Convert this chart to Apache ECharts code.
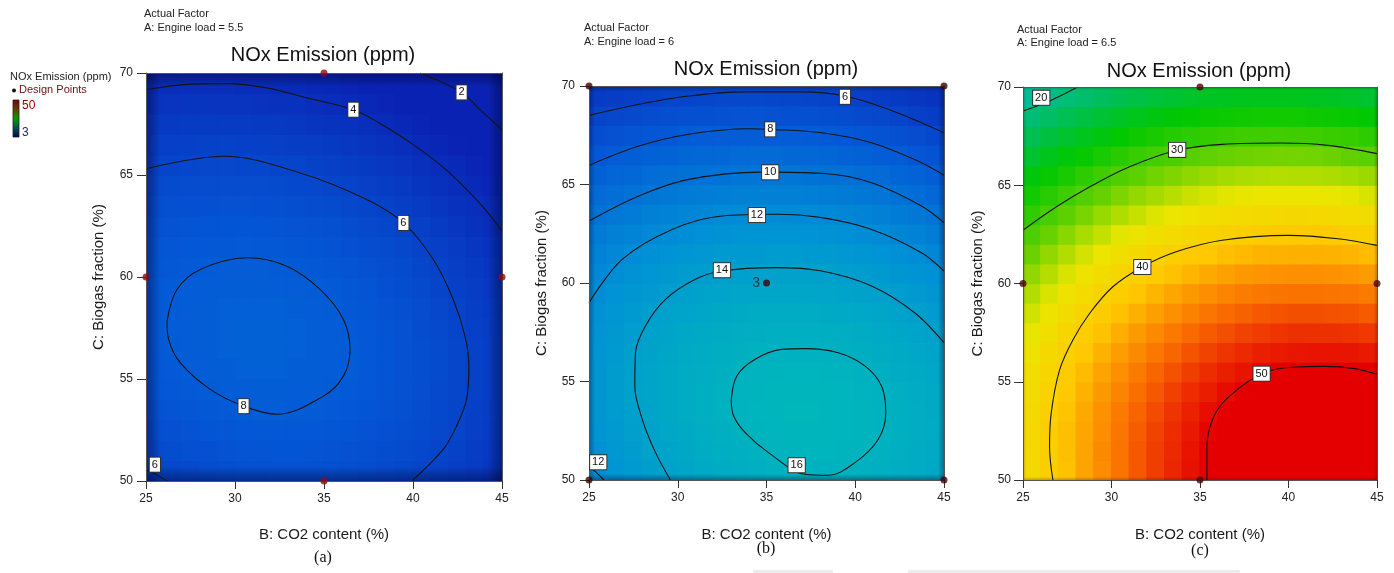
<!DOCTYPE html>
<html><head><meta charset="utf-8">
<script src="https://cdn.jsdelivr.net/npm/echarts@6/dist/echarts.min.js"></script>
<style>html,body{margin:0;padding:0;background:#fff}#chart{width:1394px;height:573px}</style>
</head><body><div id="chart"></div>
<script>
// ---------- cell centres of the response grids ----------
const cellB = [25.5,26.5,27.5,28.5,29.5,30.5,31.5,32.5,33.5,34.5,35.5,36.5,37.5,38.5,39.5,40.5,41.5,42.5,43.5,44.5];
const cellC = [50.5,51.5,52.5,53.5,54.5,55.5,56.5,57.5,58.5,59.5,60.5,61.5,62.5,63.5,64.5,65.5,66.5,67.5,68.5,69.5];

// ---------- NOx (ppm), rows = C from 50.5 up to 69.5 ----------
const noxLoad55 = [
[6.1,6.3,6.5,6.7,6.9,7.0,7.0,7.1,7.1,7.0,7.0,6.9,6.7,6.5,6.3,6.1,5.8,5.5,5.2,4.8],
[6.5,6.8,7.0,7.1,7.3,7.4,7.4,7.5,7.5,7.4,7.3,7.2,7.0,6.8,6.6,6.4,6.1,5.8,5.4,5.0],
[6.9,7.1,7.3,7.5,7.6,7.7,7.8,7.8,7.8,7.7,7.6,7.5,7.3,7.1,6.9,6.6,6.3,6.0,5.6,5.2],
[7.2,7.4,7.6,7.8,7.9,8.0,8.1,8.1,8.0,8.0,7.9,7.7,7.5,7.3,7.0,6.8,6.4,6.1,5.7,5.3],
[7.5,7.7,7.9,8.0,8.1,8.2,8.3,8.3,8.2,8.1,8.0,7.9,7.7,7.4,7.2,6.9,6.5,6.2,5.8,5.4],
[7.7,7.9,8.1,8.2,8.3,8.4,8.4,8.4,8.3,8.3,8.1,8.0,7.7,7.5,7.2,6.9,6.6,6.2,5.8,5.4],
[7.8,8.0,8.2,8.3,8.4,8.5,8.5,8.5,8.4,8.3,8.2,8.0,7.8,7.5,7.2,6.9,6.6,6.2,5.8,5.4],
[7.8,8.1,8.2,8.3,8.4,8.5,8.5,8.5,8.4,8.3,8.1,7.9,7.7,7.4,7.2,6.8,6.5,6.1,5.7,5.3],
[7.8,8.0,8.2,8.3,8.4,8.4,8.4,8.4,8.3,8.2,8.0,7.8,7.6,7.3,7.0,6.7,6.3,5.9,5.5,5.1],
[7.8,8.0,8.1,8.2,8.3,8.3,8.3,8.2,8.2,8.0,7.9,7.6,7.4,7.1,6.8,6.5,6.1,5.7,5.3,4.9],
[7.6,7.8,7.9,8.0,8.1,8.1,8.1,8.0,7.9,7.8,7.6,7.4,7.2,6.9,6.6,6.2,5.9,5.5,5.1,4.7],
[7.4,7.6,7.7,7.8,7.8,7.9,7.8,7.8,7.6,7.5,7.3,7.1,6.8,6.6,6.3,5.9,5.6,5.2,4.8,4.4],
[7.2,7.3,7.4,7.5,7.5,7.5,7.5,7.4,7.3,7.2,7.0,6.7,6.5,6.2,5.9,5.6,5.2,4.8,4.4,4.0],
[6.8,7.0,7.1,7.1,7.2,7.2,7.1,7.0,6.9,6.7,6.6,6.3,6.1,5.8,5.5,5.2,4.8,4.4,4.1,3.7],
[6.5,6.6,6.7,6.7,6.7,6.7,6.7,6.6,6.4,6.3,6.1,5.9,5.6,5.3,5.0,4.7,4.4,4.0,3.6,3.3],
[6.0,6.1,6.2,6.3,6.3,6.2,6.2,6.1,6.0,5.8,5.6,5.4,5.1,4.9,4.6,4.2,3.9,3.6,3.2,2.8],
[5.6,5.7,5.7,5.8,5.8,5.7,5.7,5.6,5.4,5.3,5.1,4.9,4.6,4.3,4.1,3.7,3.4,3.1,2.8,2.4],
[5.1,5.1,5.2,5.2,5.2,5.2,5.1,5.0,4.9,4.7,4.5,4.3,4.1,3.8,3.5,3.2,2.9,2.6,2.3,2.0],
[4.5,4.6,4.7,4.7,4.6,4.6,4.5,4.4,4.3,4.1,3.9,3.7,3.5,3.3,3.0,2.7,2.5,2.2,1.9,1.6],
[4.0,4.0,4.1,4.1,4.1,4.0,3.9,3.8,3.7,3.5,3.4,3.2,3.0,2.7,2.5,2.2,2.0,1.7,1.5,1.2]
];
const noxLoad60 = [
[12.2,12.8,13.3,13.8,14.2,14.6,15.0,15.3,15.5,15.7,15.9,16.0,16.0,16.0,16.0,15.9,15.7,15.5,15.2,14.9],
[12.5,13.1,13.6,14.1,14.5,14.9,15.3,15.6,15.8,16.0,16.1,16.2,16.3,16.3,16.2,16.1,15.9,15.7,15.4,15.1],
[12.8,13.4,13.9,14.3,14.8,15.1,15.5,15.8,16.0,16.2,16.3,16.4,16.4,16.4,16.3,16.2,16.0,15.8,15.5,15.2],
[13.0,13.5,14.0,14.5,14.9,15.3,15.6,15.9,16.1,16.3,16.4,16.5,16.5,16.4,16.3,16.2,16.0,15.8,15.5,15.1],
[13.0,13.6,14.1,14.5,14.9,15.3,15.6,15.9,16.1,16.2,16.4,16.4,16.4,16.4,16.3,16.1,15.9,15.7,15.3,15.0],
[13.0,13.6,14.0,14.5,14.9,15.2,15.5,15.8,16.0,16.1,16.2,16.3,16.3,16.2,16.1,15.9,15.7,15.4,15.1,14.8],
[12.9,13.4,13.9,14.3,14.7,15.1,15.3,15.6,15.8,15.9,16.0,16.0,16.0,15.9,15.8,15.6,15.4,15.1,14.8,14.5],
[12.7,13.2,13.7,14.1,14.5,14.8,15.1,15.3,15.5,15.6,15.7,15.7,15.7,15.6,15.5,15.3,15.0,14.7,14.4,14.0],
[12.5,12.9,13.4,13.8,14.1,14.4,14.7,14.9,15.1,15.2,15.3,15.3,15.2,15.1,15.0,14.8,14.6,14.3,13.9,13.5],
[12.1,12.6,13.0,13.4,13.7,14.0,14.2,14.4,14.6,14.7,14.7,14.7,14.7,14.6,14.4,14.2,14.0,13.7,13.4,13.0],
[11.7,12.1,12.5,12.9,13.2,13.5,13.7,13.9,14.0,14.1,14.1,14.1,14.1,14.0,13.8,13.6,13.3,13.0,12.7,12.3],
[11.2,11.6,12.0,12.3,12.6,12.9,13.1,13.3,13.4,13.4,13.5,13.5,13.4,13.3,13.1,12.9,12.6,12.3,12.0,11.6],
[10.6,11.0,11.3,11.7,11.9,12.2,12.4,12.5,12.7,12.7,12.7,12.7,12.6,12.5,12.3,12.1,11.8,11.5,11.2,10.8],
[9.9,10.3,10.6,11.0,11.2,11.4,11.6,11.8,11.9,11.9,11.9,11.9,11.8,11.7,11.5,11.3,11.0,10.7,10.4,10.0],
[9.2,9.6,9.9,10.2,10.4,10.6,10.8,10.9,11.0,11.1,11.0,11.0,10.9,10.8,10.6,10.4,10.1,9.8,9.5,9.1],
[8.5,8.8,9.1,9.4,9.6,9.8,9.9,10.0,10.1,10.1,10.1,10.1,10.0,9.8,9.7,9.4,9.2,8.9,8.6,8.2],
[7.7,8.0,8.3,8.5,8.7,8.9,9.0,9.1,9.2,9.2,9.2,9.1,9.0,8.9,8.7,8.5,8.2,8.0,7.6,7.3],
[6.9,7.2,7.4,7.6,7.8,8.0,8.1,8.2,8.2,8.2,8.2,8.1,8.0,7.9,7.7,7.5,7.3,7.0,6.7,6.4],
[6.0,6.3,6.5,6.7,6.9,7.0,7.1,7.2,7.3,7.3,7.2,7.1,7.0,6.9,6.7,6.5,6.3,6.0,5.7,5.4],
[5.2,5.4,5.6,5.8,6.0,6.1,6.2,6.3,6.3,6.3,6.2,6.2,6.1,5.9,5.8,5.6,5.3,5.1,4.8,4.5]
];
const noxLoad65 = [
[38.0,39.6,41.0,42.5,43.8,45.1,46.3,47.4,48.4,49.3,50.1,50.9,51.5,52.0,52.5,52.8,53.0,53.1,53.1,53.0],
[38.1,39.7,41.1,42.5,43.9,45.1,46.3,47.4,48.3,49.2,50.1,50.8,51.4,51.9,52.3,52.6,52.8,52.9,52.9,52.8],
[38.1,39.6,41.1,42.4,43.7,45.0,46.1,47.2,48.1,49.0,49.8,50.5,51.1,51.6,51.9,52.2,52.4,52.5,52.4,52.3],
[37.9,39.4,40.8,42.2,43.5,44.7,45.8,46.8,47.8,48.6,49.4,50.1,50.6,51.1,51.4,51.7,51.9,51.9,51.8,51.7],
[37.6,39.1,40.5,41.8,43.1,44.2,45.3,46.3,47.3,48.1,48.8,49.5,50.0,50.4,50.8,51.0,51.1,51.2,51.1,50.9],
[37.2,38.6,40.0,41.3,42.5,43.6,44.7,45.7,46.6,47.4,48.1,48.7,49.2,49.6,49.9,50.1,50.3,50.3,50.2,50.0],
[36.6,38.0,39.3,40.6,41.8,42.9,43.9,44.9,45.7,46.5,47.2,47.8,48.3,48.7,48.9,49.1,49.2,49.2,49.1,48.9],
[35.8,37.2,38.5,39.8,40.9,42.0,43.0,43.9,44.8,45.5,46.2,46.7,47.2,47.5,47.8,48.0,48.0,48.0,47.9,47.6],
[35.0,36.3,37.6,38.8,39.9,41.0,41.9,42.8,43.6,44.4,45.0,45.5,45.9,46.3,46.5,46.7,46.7,46.6,46.5,46.2],
[34.0,35.3,36.5,37.7,38.8,39.8,40.7,41.6,42.4,43.1,43.7,44.2,44.6,44.9,45.1,45.2,45.2,45.1,45.0,44.7],
[32.9,34.1,35.3,36.5,37.5,38.5,39.4,40.2,41.0,41.6,42.2,42.7,43.1,43.3,43.5,43.6,43.6,43.5,43.3,43.0],
[31.6,32.9,34.0,35.1,36.1,37.1,38.0,38.8,39.5,40.1,40.6,41.1,41.4,41.7,41.8,41.9,41.9,41.8,41.6,41.3],
[30.3,31.5,32.6,33.7,34.6,35.6,36.4,37.1,37.8,38.4,38.9,39.3,39.7,39.9,40.0,40.1,40.1,39.9,39.7,39.4],
[28.9,30.0,31.1,32.1,33.1,33.9,34.7,35.4,36.1,36.6,37.1,37.5,37.8,38.0,38.1,38.2,38.1,38.0,37.7,37.4],
[27.4,28.5,29.5,30.5,31.4,32.2,33.0,33.6,34.2,34.8,35.2,35.6,35.8,36.0,36.1,36.1,36.1,35.9,35.7,35.3],
[25.8,26.8,27.8,28.7,29.6,30.4,31.1,31.8,32.3,32.8,33.2,33.6,33.8,34.0,34.1,34.0,34.0,33.8,33.5,33.2],
[24.1,25.1,26.1,26.9,27.7,28.5,29.2,29.8,30.3,30.8,31.2,31.5,31.7,31.8,31.9,31.9,31.8,31.6,31.3,31.0],
[22.4,23.4,24.2,25.1,25.8,26.6,27.2,27.8,28.3,28.7,29.0,29.3,29.5,29.6,29.7,29.6,29.5,29.3,29.1,28.7],
[20.6,21.5,22.4,23.2,23.9,24.6,25.2,25.7,26.2,26.6,26.9,27.1,27.3,27.4,27.4,27.4,27.2,27.0,26.8,26.4],
[18.9,19.7,20.5,21.2,21.9,22.5,23.1,23.6,24.0,24.4,24.7,24.9,25.1,25.1,25.1,25.1,24.9,24.7,24.5,24.1]
];

// ---------- design points [B, C] ----------
const designA = [[35,70],[25,60],[45,60],[35,50]];
const designB = [[25,70],[45,70],[35,60],[25,50],[45,50]];
const designBReps = [1,1,3,1,1];
const designC = [[35,70],[25,60],[45,60],[35,50]];

// ---------- contour lines [B, C] ----------
const a2 = [[40.39,70],[42.73,69.05],[43.76,68.2],[45,67.22]];
const a4 = [[25,69.18],[27.1,69.43],[29.55,69.48],[31.79,69.27],[34.03,68.78],[36.65,68.2],[38.1,67.55],[40,66.5],[41.85,65.26],[43.73,63.63],[45,62.25]];
const a6 = [[25,65.31],[29.36,65.92],[33.66,65.1],[37.4,63.8],[39.46,62.65],[41.14,60.86],[42.26,58.9],[42.92,57.1],[43.14,55.63],[43.01,54.0],[42.45,52.7],[41.7,51.55],[39.94,50]];
const a6corner = [[25,50.55],[25.6,50.3],[26.2,50]];
const a8 = [[26.18,57.84],[26.74,59.39],[28.05,60.37],[30.67,60.94],[32.91,60.53],[34.78,59.39],[36.09,57.92],[36.46,56.45],[36.09,55.14],[34.97,54.16],[32.35,53.27],[30.48,53.67],[28.61,54.49],[26.92,55.8],[26.27,56.94],[26.18,57.84]];
const b6 = [[25,68.51],[27.81,69.07],[30.62,69.49],[33.8,69.7],[36.99,69.7],[39.42,69.49],[41.85,68.82],[43.73,68.14],[45,67.63]];
const b8 = [[25,65.97],[27.81,66.95],[30.62,67.55],[33.99,67.83],[35.21,67.8],[38.11,67.63],[40.92,67.12],[43.73,66.11],[45,65.47]];
const b10 = [[25,63.15],[27.81,64.42],[30.62,65.26],[34.74,65.63],[38.11,65.57],[40.92,65.09],[43.73,63.91],[45,63.06]];
const b12 = [[25,59.0],[26.87,61.2],[29.68,62.72],[32.49,63.4],[35.49,63.49],[38.11,63.32],[40.92,62.72],[43.73,61.54],[45,60.61]];
const b12corner = [[25,50.71],[25.45,50.35],[25.84,50]];
const b14 = [[29.59,50],[28.75,51.39],[28.0,53.08],[27.58,54.77],[27.62,56.46],[28.18,57.82],[29.31,59.17],[30.99,60.19],[32.49,60.61],[35.49,60.78],[38.11,60.61],[40.92,59.85],[43.35,58.49],[45,56.97]];
const b16 = [[33.01,54.01],[33.33,55.28],[34.36,56.13],[35.86,56.63],[37.17,56.67],[39.04,56.46],[40.54,55.79],[41.48,54.77],[41.72,53.42],[41.29,52.06],[39.98,50.88],[38.48,50.24],[37.17,50.29],[35.11,51.39],[33.8,52.4],[33.15,53.25],[33.01,54.01]];
const c20 = [[25,68.78],[26.5,69.29],[28.09,70]];
const c30 = [[25,62.71],[26.87,63.89],[28.75,64.91],[30.99,65.93],[33.71,66.78],[36.24,67.08],[39.61,67.15],[42.23,67.03],[45,66.61]];
const c40 = [[26.69,50],[26.5,51.68],[26.59,53.38],[27.06,55.58],[27.81,57.11],[28.75,58.46],[30.06,59.82],[31.74,60.84],[33.61,61.6],[36.24,62.2],[39.98,62.45],[42.79,62.28],[45,61.94]];
const c50 = [[35.39,50],[35.39,51.68],[35.77,53.21],[36.61,54.22],[38.48,55.41],[40.36,55.75],[42.04,55.78],[43.73,55.67],[45,55.38]];

// ---------- contour label positions [B, C, level] ----------
const labelsA = [[42.73,69.05,'2'],[36.65,68.2,'4'],[39.46,62.65,'6'],[30.48,53.67,'8'],[25.5,50.8,'6']];
const labelsB = [[39.42,69.45,'6'],[35.21,67.8,'8'],[35.21,65.62,'10'],[34.46,63.45,'12'],[32.49,60.65,'14'],[36.7,50.75,'16'],[25.52,50.9,'12']];
const labelsC = [[26.03,69.45,'20'],[33.71,66.8,'30'],[31.74,60.84,'40'],[38.48,55.41,'50']];

const FONT = '"Liberation Sans", Arial, sans-serif';
const NARROW = '"Liberation Sans Narrow", "Liberation Sans", Arial, sans-serif';

const gridsPx = [
  {left:146, top:73, width:356, height:408},
  {left:589, top:86, width:355, height:394},
  {left:1023, top:87, width:354, height:393}
];
const yNameGap = [40, 40, 38];
const xNameGap = [46, 47, 47];
const yLabelMargin = [13, 14, 12];

function toCells(grid){
  const out = [];
  grid.forEach((row, j) => row.forEach((v, i) => out.push([i, j, v])));
  return out;
}

const xAxes = [], yAxes = [];
gridsPx.forEach((g, k) => {
  xAxes.push({
    gridIndex:k, type:'value', min:25, max:45, interval:5, position:'bottom', z:5,
    axisLine:{show:true, onZero:false, lineStyle:{color:'#555', width:1}},
    axisTick:{show:true, length:8, lineStyle:{color:'#333'}},
    axisLabel:{color:'#222', fontSize:12, margin:12, fontFamily:NARROW},
    splitLine:{show:false},
    name:'B: CO2 content (%)', nameLocation:'middle', nameGap:xNameGap[k],
    nameTextStyle:{fontSize:15, color:'#1a1a1a', fontFamily:FONT}
  });
  xAxes.push({
    gridIndex:k, type:'category', data:cellB, position:'top', z:5,
    axisLine:{show:true, lineStyle:{color:'#555', width:1}},
    axisTick:{show:false}, axisLabel:{show:false}, splitLine:{show:false}
  });
  yAxes.push({
    gridIndex:k, type:'value', min:50, max:70, interval:5, position:'left', z:5,
    axisLine:{show:true, onZero:false, lineStyle:{color:'#555', width:1}},
    axisTick:{show:true, length:9, lineStyle:{color:'#333'}},
    axisLabel:{color:'#222', fontSize:12, margin:yLabelMargin[k], fontFamily:NARROW},
    splitLine:{show:false},
    name:'C: Biogas fraction (%)', nameLocation:'middle', nameGap:yNameGap[k],
    nameTextStyle:{fontSize:15, color:'#1a1a1a', fontFamily:FONT}
  });
  yAxes.push({
    gridIndex:k, type:'category', data:cellC, position:'right', z:5,
    axisLine:{show:true, lineStyle:{color:'#555', width:1}},
    axisTick:{show:false}, axisLabel:{show:false}, splitLine:{show:false}
  });
});

const series = [];
// response surface cells (custom rects, slightly overlapped so no seams show)
[noxLoad55, noxLoad60, noxLoad65].forEach((grid, k) => {
  series.push({
    type:'custom', xAxisIndex:2*k+1, yAxisIndex:2*k+1, data:toCells(grid),
    encode:{x:0, y:1}, silent:true, clip:true, z:2,
    renderItem:(params, api) => {
      const c = api.coord([api.value(0), api.value(1)]);
      const s = api.size([1, 1]);
      return {type:'rect',
        shape:{x:c[0] - s[0]/2 - 0.6, y:c[1] - s[1]/2 - 0.6, width:s[0] + 1.2, height:s[1] + 1.2},
        style:{fill:api.visual('color')}};
    }
  });
});

function contour(k, pts){
  return {type:'line', xAxisIndex:2*k, yAxisIndex:2*k, data:pts, smooth:0.35, symbol:'none',
    silent:true, z:4, lineStyle:{color:'#151515', width:1.1}};
}
[a2,a4,a6,a6corner,a8].forEach(p => series.push(contour(0,p)));
[b6,b8,b10,b12,b12corner,b14,b16].forEach(p => series.push(contour(1,p)));
[c20,c30,c40,c50].forEach(p => series.push(contour(2,p)));

function labels(k, arr){
  return {type:'scatter', xAxisIndex:2*k, yAxisIndex:2*k, z:8, silent:true,
    symbol:'rect', symbolSize:1, itemStyle:{color:'#ffffff', opacity:1},
    data: arr.map(d => ({value:[d[0], d[1]], name:d[2]})),
    label:{show:true, position:'inside', formatter:'{b}', color:'#111', fontSize:11, fontFamily:NARROW,
      opacity:1, backgroundColor:'#ffffff', borderColor:'#333', borderWidth:1, padding:[2,2,1,2]}};
}
series.push(labels(0, labelsA), labels(1, labelsB), labels(2, labelsC));

function design(k, pts, color, reps){
  return {type:'scatter', xAxisIndex:2*k, yAxisIndex:2*k, z:9, silent:true,
    symbolSize:7, itemStyle:{color:color},
    data: pts.map((p, i) => ({value:p, name: reps && reps[i] > 1 ? String(reps[i]) : ''})),
    label:{show:true, position:'left', distance:3, formatter:'{b}', fontSize:14, color:'#222', fontFamily:FONT}};
}
series.push(design(0, designA, '#8a0c0c'), design(1, designB, '#3d0505', designBReps), design(2, designC, '#4a0606'));

function txt(x, y, text, font, color, align){
  return {type:'text', x:x, y:y, z:20, silent:true,
    style:{text:text, font:font, fill:color || '#222', textAlign:align || 'left', align:align || 'left',
      textVerticalAlign:'middle', verticalAlign:'middle'}};
}
// soft darkening along the inside of each frame (shading of the original plots)
function edgeShade(g, w, col){
  const t = 'rgba(0,0,0,0)';
  const mk = (x, y, ww, hh, x2, y2) => ({type:'rect', z:3, silent:true, shape:{x:x, y:y, width:ww, height:hh},
    style:{fill:{type:'linear', x:0, y:0, x2:x2, y2:y2, colorStops:[{offset:0, color:col}, {offset:1, color:t}]}}});
  const flip = (x, y, ww, hh, x2, y2) => ({type:'rect', z:3, silent:true, shape:{x:x, y:y, width:ww, height:hh},
    style:{fill:{type:'linear', x:0, y:0, x2:x2, y2:y2, colorStops:[{offset:0, color:t}, {offset:1, color:col}]}}});
  return [
    mk(g.left, g.top, g.width, w, 0, 1),
    flip(g.left, g.top + g.height - w, g.width, w, 0, 1),
    mk(g.left, g.top, w, g.height, 1, 0),
    flip(g.left + g.width - w, g.top, w, g.height, 1, 0)
  ];
}
const graphics = [].concat(
  edgeShade(gridsPx[0], 14, 'rgba(0,0,70,0.45)'),
  edgeShade(gridsPx[1], 6, 'rgba(0,0,50,0.35)'),
  edgeShade(gridsPx[2], 3, 'rgba(60,0,0,0.25)'),
  [
  txt(323, 55, 'NOx Emission (ppm)', '20px ' + FONT, '#111', 'center'),
  txt(766, 69, 'NOx Emission (ppm)', '20px ' + FONT, '#111', 'center'),
  txt(1199, 71, 'NOx Emission (ppm)', '20px ' + FONT, '#111', 'center'),
  txt(144, 14, 'Actual Factor', '11px ' + FONT, '#222'),
  txt(144, 28, 'A: Engine load = 5.5', '11px ' + FONT, '#222'),
  txt(584, 28, 'Actual Factor', '11px ' + FONT, '#222'),
  txt(584, 42, 'A: Engine load = 6', '11px ' + FONT, '#222'),
  txt(1017, 30, 'Actual Factor', '11px ' + FONT, '#222'),
  txt(1017, 43, 'A: Engine load = 6.5', '11px ' + FONT, '#222'),
  txt(323, 558, '(a)', '16px "Liberation Serif", serif', '#111', 'center'),
  txt(766, 549, '(b)', '16px "Liberation Serif", serif', '#111', 'center'),
  txt(1200, 551, '(c)', '16px "Liberation Serif", serif', '#111', 'center'),
  txt(10, 77, 'NOx Emission (ppm)', '11px ' + FONT, '#222'),
  txt(19, 90, 'Design Points', '11px ' + FONT, '#6b1212'),
  {type:'circle', shape:{cx:14, cy:90.5, r:2}, style:{fill:'#111'}, z:20, silent:true},
  {type:'rect', shape:{x:13, y:100, width:6, height:37}, z:20, silent:true,
    style:{stroke:'#222', lineWidth:0.8, fill:{type:'linear', x:0, y:0, x2:0, y2:1, colorStops:[
      {offset:0, color:'#7a0000'}, {offset:0.25, color:'#6a3a00'}, {offset:0.5, color:'#00a000'},
      {offset:0.78, color:'#004a5a'}, {offset:1, color:'#000050'}]}}},
  txt(22, 106, '50', '12px ' + NARROW, '#a00000'),
  txt(22, 133, '3', '12px ' + NARROW, '#202090'),
  {type:'rect', shape:{x:753, y:570, width:80, height:3, r:1}, style:{fill:'#ececec'}, z:1, silent:true},
  {type:'rect', shape:{x:908, y:570, width:332, height:3, r:1}, style:{fill:'#ececec'}, z:1, silent:true}
  ]);

const chart = echarts.init(document.getElementById('chart'), null, {renderer:'canvas'});
chart.setOption({
  animation:false,
  backgroundColor:'#ffffff',
  grid: gridsPx,
  xAxis: xAxes,
  yAxis: yAxes,
  visualMap:{type:'continuous', show:false, seriesIndex:[0,1,2], dimension:2, min:3, max:50,
    inRange:{color:['#0a22b4','#0457d6','#0091d6','#00bcb8','#00be5f','#00c800','#5fd000','#ebe600','#ffc800','#fa7000','#e40000']}},
  series: series,
  graphic: graphics
});
</script></body></html>
